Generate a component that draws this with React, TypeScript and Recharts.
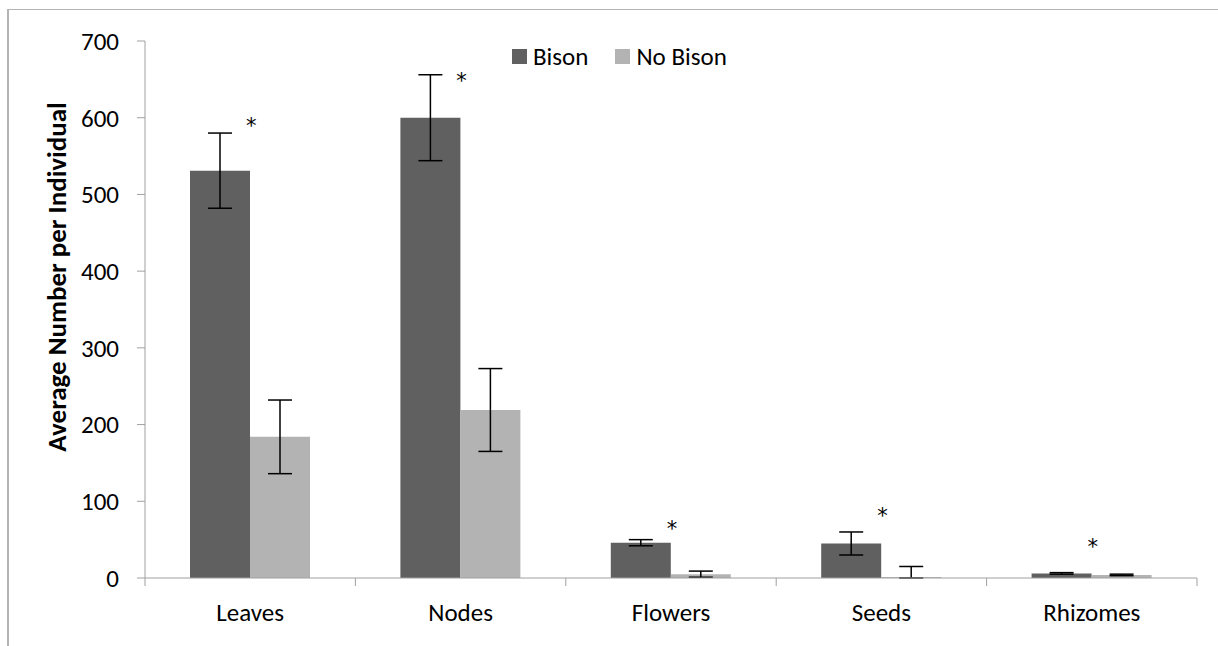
import {
  ComposedChart,
  Bar,
  Scatter,
  ErrorBar,
  XAxis,
  YAxis,
} from "recharts";

const categories = ["Leaves", "Nodes", "Flowers", "Seeds", "Rhizomes"];
const bisonValues = [531, 600, 46, 45, 6];
const noBisonValues = [184, 219, 5, 0, 4];
const bisonErrors: (number | number[])[] = [49, 56, 4, 15, 1];
const noBisonErrors: (number | number[])[] = [48, 54, 4, [0, 15], 1];
// height (in axis units) at which each significance star sits
const starLevels = [595, 653, 69, 86, 46];
const yTicks = [0, 100, 200, 300, 400, 500, 600, 700];

const FONT = "Carlito, Calibri, Lato, sans-serif";
const AXIS_GREY = "#a0a0a0";
const BISON = "#606060";
const NO_BISON = "#b3b3b3";

const data = categories.map((name, i) => ({
  name,
  bison: bisonValues[i],
  noBison: noBisonValues[i],
  bisonErr: bisonErrors[i],
  noBisonErr: noBisonErrors[i],
  star: starLevels[i],
}));

const CategoryTick = (props: any) => {
  const { x, y, payload, index, visibleTicksCount } = props;
  const half = payload.offset || 0;
  const last = index === visibleTicksCount - 1;
  return (
    <g>
      <line x1={x - half} x2={x - half} y1={y} y2={y + 8} stroke={AXIS_GREY} />
      {last && <line x1={x + half} x2={x + half} y1={y} y2={y + 8} stroke={AXIS_GREY} />}
      <text x={x} y={y + 43} textAnchor="middle" fontSize={25} fontFamily={FONT} fill="#000">
        {payload.value}
      </text>
    </g>
  );
};

const YTitle = () => (
  <svg width={120} height={646} style={{ position: "absolute", left: 0, top: 0 }}>
    <text
      x={56}
      y={277}
      transform="rotate(-90, 56, 277)"
      textAnchor="middle"
      dominantBaseline="central"
      fontSize={27}
      fontWeight="bold"
      fontFamily={FONT}
      fill="#000"
    >
      Average Number per Individual
    </text>
  </svg>
);

const Star = (props: any) => {
  const { cx, cy } = props;
  if (cx == null || cy == null) return null;
  return (
    <text x={cx + 1} y={cy + 11} textAnchor="middle" fontSize={21} fontFamily="DejaVu Sans" fill="#000">
      *
    </text>
  );
};

const LegendBox = () => (
  <div
    style={{
      position: "absolute",
      left: 512,
      top: 44,
      display: "flex",
      alignItems: "center",
      fontFamily: FONT,
      fontSize: 25,
      lineHeight: "25px",
      color: "#000",
    }}
  >
    <span style={{ width: 15, height: 15, background: BISON, display: "inline-block", marginRight: 6 }} />
    <span style={{ marginRight: 27 }}>Bison</span>
    <span style={{ width: 15, height: 15, background: NO_BISON, display: "inline-block", marginRight: 6 }} />
    <span>No Bison</span>
  </div>
);

export default function App() {
  return (
    <div style={{ position: "absolute", left: 0, top: 0, width: 1218, height: 646, background: "#fff", overflow: "hidden" }}>
      <div
        style={{
          position: "absolute",
          left: 7,
          top: 9,
          width: 1218,
          height: 646,
          borderTop: "1px solid #b4b4b4",
          borderLeft: "2px solid #b4b4b4",
        }}
      />
      <ComposedChart
        width={1218}
        height={646}
        data={data}
        margin={{ top: 41, right: 21, bottom: 28, left: 8 }}
        barGap={0}
        style={{ position: "absolute", left: 0, top: 0 }}
      >
        <XAxis
          dataKey="name"
          height={40}
          stroke={AXIS_GREY}
          tickLine={false}
          tickSize={0}
          tickMargin={0}
          tick={<CategoryTick />}
          interval={0}
        />
        <YAxis
          width={137}
          domain={[0, 700]}
          ticks={yTicks}
          stroke={AXIS_GREY}
          tickSize={8}
          tickMargin={18}
          tick={{ fontSize: 25, fontFamily: FONT, fill: "#000" }}
        />
        <Bar dataKey="bison" name="Bison" fill={BISON} barSize={60} isAnimationActive={false}>
          <ErrorBar dataKey="bisonErr" width={12} stroke="#000" strokeWidth={1.5} isAnimationActive={false} />
        </Bar>
        <Bar dataKey="noBison" name="No Bison" fill={NO_BISON} barSize={60} minPointSize={1} isAnimationActive={false}>
          <ErrorBar dataKey="noBisonErr" width={12} stroke="#000" strokeWidth={1.5} isAnimationActive={false} />
        </Bar>
        <Scatter dataKey="star" shape={<Star />} legendType="none" isAnimationActive={false} />
      </ComposedChart>
      <YTitle />
      <LegendBox />
    </div>
  );
}
